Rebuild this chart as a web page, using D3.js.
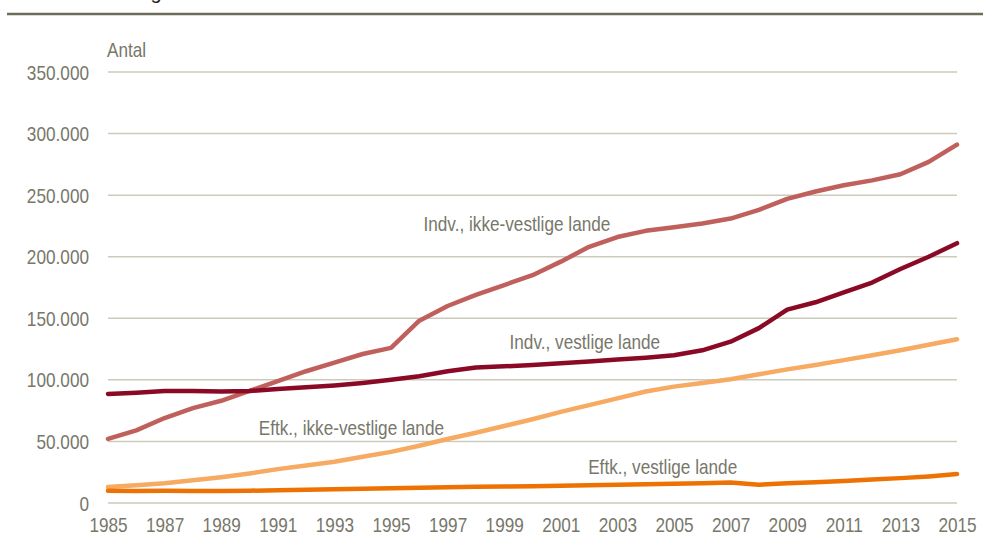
<!DOCTYPE html>
<html>
<head>
<meta charset="utf-8">
<script src="https://cdn.jsdelivr.net/npm/d3@7"></script>
<style>
  body { margin: 0; background: #fff; }
  svg { display: block; font-family: 'Liberation Sans', Arial, sans-serif; }
</style>
</head>
<body>
<div id="chart"></div>
<script>
// data (thousands)
const years = d3.range(1985, 2016);
const indvIkkeVestlige = [52, 59, 69, 77, 83, 91, 99, 107, 114, 121, 126, 148, 160, 169, 177, 185, 196, 208, 216, 221, 224, 227, 231, 238, 247, 253, 258, 262, 267, 277, 291];
const indvVestlige = [88.5, 89.5, 91, 91, 90.5, 91, 92.5, 94, 95.5, 97.5, 100, 103, 107, 110, 111, 112, 113.5, 115, 116.5, 118, 120, 124, 131, 142, 157, 163, 171, 179, 190, 200, 211];
const eftkIkkeVestlige = [13, 14.5, 16, 18.5, 21, 24, 27.5, 30.5, 33.5, 37.5, 41.5, 46.5, 52, 57, 62.5, 68, 74, 79.5, 85, 90.5, 94.5, 97.5, 100.5, 104.5, 108.5, 112, 116, 120, 124, 128.5, 133];
const eftkVestlige = [10, 9.8, 10, 9.8, 9.8, 10, 10.3, 10.8, 11.2, 11.6, 12, 12.4, 12.8, 13.1, 13.4, 13.7, 14.1, 14.5, 14.9, 15.2, 15.6, 16, 16.6, 14.8, 16, 16.8, 17.8, 19, 20.2, 21.6, 23.5];
const yTicks = [0, 50000, 100000, 150000, 200000, 250000, 300000, 350000];
const xTicks = d3.range(1985, 2016, 2);

// label anchor = (year, value) at the text baseline
const series = [
  { name: 'Indv., ikke-vestlige lande', values: indvIkkeVestlige, color: '#c0605d', lx: 1999.45, ly: 221000 },
  { name: 'Indv., vestlige lande', values: indvVestlige, color: '#8a0a26', lx: 2001.85, ly: 125000 },
  { name: 'Eftk., ikke-vestlige lande', values: eftkIkkeVestlige, color: '#f6aa62', lx: 1993.6, ly: 55200 },
  { name: 'Eftk., vestlige lande', values: eftkVestlige, color: '#ee7203', lx: 2004.6, ly: 23500 }
];

const width = 985;
const height = 547;
const margin = { top: 72, right: 28, bottom: 44, left: 108 };
const textColor = '#77776a';
const gridColor = '#cbcabb';
const squeeze = 0.86; // narrow font look

const svg = d3.select('#chart')
  .append('svg')
  .attr('width', width)
  .attr('height', height);

const x = d3.scaleLinear()
  .domain([1985, 2015])
  .range([margin.left, width - margin.right]);

const y = d3.scaleLinear()
  .domain([0, 350000])
  .range([height - margin.bottom, margin.top]);

// squeeze text horizontally, keeping its anchor in place
function condense(sel) {
  sel.each(function () {
    const t = d3.select(this);
    const x0 = +t.attr('x') || 0;
    t.attr('x', x0 / squeeze).attr('transform', `scale(${squeeze},1)`);
  });
}

// title (cut off at the top) and rule
svg.append('text')
  .attr('x', 27)
  .attr('y', -1.5)
  .attr('font-size', 20)
  .attr('fill', '#222')
  .text('Indvandrere og efterkommere');

svg.append('line')
  .attr('x1', 7)
  .attr('x2', 983)
  .attr('y1', 14)
  .attr('y2', 14)
  .attr('stroke', '#6e6c58')
  .attr('stroke-width', 2.5);

// gridlines
svg.append('g')
  .selectAll('line')
  .data(yTicks)
  .enter()
  .append('line')
  .attr('x1', x(1985))
  .attr('x2', x(2015))
  .attr('y1', (d) => y(d))
  .attr('y2', (d) => y(d))
  .attr('stroke', gridColor)
  .attr('stroke-width', 1.5);

// y axis
const yAxis = svg.append('g')
  .attr('transform', `translate(${margin.left - 16},0)`)
  .call(d3.axisLeft(y)
    .tickValues(yTicks)
    .tickSize(0)
    .tickFormat((d) => d === 0 ? '0' : d3.format(',')(d).replace(/,/g, '.')));
yAxis.select('.domain').remove();
yAxis.selectAll('text')
  .attr('font-size', 20)
  .attr('font-family', null)
  .attr('fill', textColor)
  .attr('dy', '0.35em')
  .call(condense);

// x axis
const xAxis = svg.append('g')
  .attr('transform', `translate(0,${height - margin.bottom + 12})`)
  .call(d3.axisBottom(x)
    .tickValues(xTicks)
    .tickSize(0)
    .tickFormat(d3.format('d')));
xAxis.select('.domain').remove();
xAxis.selectAll('text')
  .attr('font-size', 20)
  .attr('font-family', null)
  .attr('fill', textColor)
  .call(condense);

// y axis title
svg.append('text')
  .attr('x', margin.left - 1)
  .attr('y', 57)
  .attr('font-size', 20)
  .attr('fill', textColor)
  .text('Antal')
  .call(condense);

// lines
const line = d3.line()
  .x((d, i) => x(years[i]))
  .y((d) => y(d * 1000));

svg.append('g')
  .selectAll('path')
  .data(series)
  .enter()
  .append('path')
  .attr('d', (d) => line(d.values))
  .attr('fill', 'none')
  .attr('stroke', (d) => d.color)
  .attr('stroke-width', 4.5)
  .attr('stroke-linejoin', 'round')
  .attr('stroke-linecap', 'round');

// line labels
svg.append('g')
  .selectAll('text')
  .data(series)
  .enter()
  .append('text')
  .attr('x', (d) => x(d.lx))
  .attr('y', (d) => y(d.ly))
  .attr('text-anchor', 'middle')
  .attr('font-size', 20)
  .attr('fill', textColor)
  .text((d) => d.name)
  .call(condense);
</script>
</body>
</html>
